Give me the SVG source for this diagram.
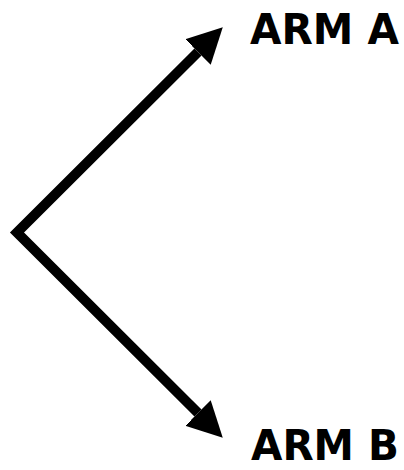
<svg xmlns="http://www.w3.org/2000/svg" width="404" height="470" viewBox="0 0 404 470">
<style>
.lbl{font-family:"DejaVu Sans","Liberation Sans",sans-serif;font-weight:bold;font-size:42px;fill:#000}
.arm{fill:none;stroke:#000;stroke-width:10;stroke-linejoin:miter;stroke-linecap:butt}
</style>
<defs>
<marker id="head" viewBox="0 -18 35 36" refX="0" refY="0" markerWidth="35" markerHeight="36" markerUnits="userSpaceOnUse" orient="auto-start-reverse">
<path d="M0,-18 L35,0 L0,18 Z" fill="#000"/>
</marker>
</defs>
<g id="connectors">
<path class="arm" d="M198,52 L17,232.5 L198,413" marker-start="url(#head)" marker-end="url(#head)"/>
</g>
<g id="armA"><text class="lbl" x="250" y="44" textLength="149" lengthAdjust="spacingAndGlyphs">ARM A</text></g>
<g id="armB"><text class="lbl" x="251" y="460" textLength="148" lengthAdjust="spacingAndGlyphs">ARM B</text></g>
</svg>
